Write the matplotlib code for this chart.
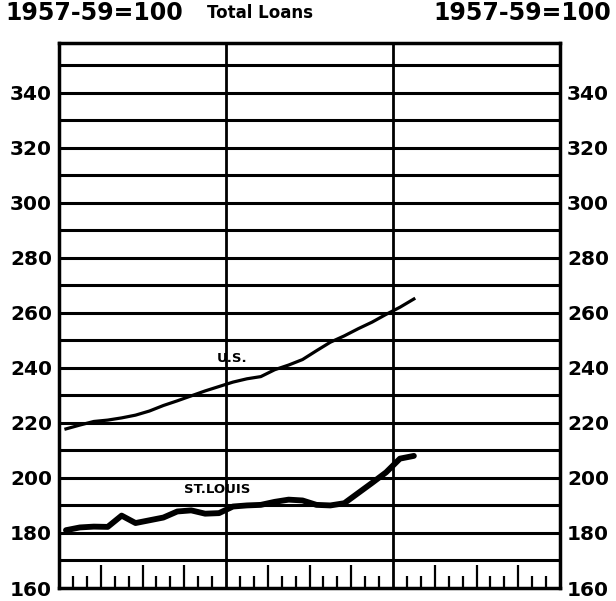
import numpy as np
import matplotlib
matplotlib.use("Agg")
import matplotlib.pyplot as plt

# monthly index values (month 0 = start of first year)
months = np.arange(26) + 0.5
us = [217.8, 219.2, 220.5, 221.0, 221.8, 222.8, 224.3, 226.3, 228.0, 229.8,
      231.6, 233.2, 234.8, 236.0, 236.8, 239.3, 241.0, 243.0, 246.2, 249.3,
      251.6, 254.2, 256.6, 259.4, 262.0, 265.0]
st_louis = [181.0, 182.0, 182.3, 182.2, 186.3, 183.6, 184.6, 185.6, 187.8, 188.2,
            187.0, 187.2, 189.6, 190.0, 190.2, 191.3, 192.1, 191.8, 190.2, 190.0,
            190.8, 194.5, 198.2, 202.0, 207.0, 208.0]
yticks = list(range(160, 341, 20))

plt.rcParams['font.family'] = 'DejaVu Sans'
plt.rcParams['font.weight'] = 'bold'

fig = plt.figure(figsize=(6.16, 6.01), dpi=100)
# frame runs from x=59..560 px and y=43..588 px
ax = fig.add_axes([59 / 616, 13 / 601, 501 / 616, 545 / 601])
ax.set_xlim(0, 36)
ax.set_ylim(160, 358)

# horizontal grid every 10 points
ax.hlines(np.arange(170, 351, 10), 0, 36, color='black', lw=2.2, zorder=1)
# year dividers
ax.vlines([12, 24], 160, 358, color='black', lw=2.0, zorder=1)
# month ticks along the bottom, taller ones at quarters
m = np.array([i for i in range(1, 36) if i % 12 != 0])
ax.vlines(m, 160, np.where(m % 3 == 0, 168.5, 164.5), color='black', lw=1.6, zorder=1)

ax.plot(months, us, color='black', lw=2.3, zorder=3)
ax.plot(months, st_louis, color='black', lw=4.2, zorder=3, solid_capstyle='round')

ax.text(12.4, 243.5, 'U.S.', ha='center', va='center', fontsize=9.5)
ax.text(11.35, 195.7, 'ST.LOUIS', ha='center', va='center', fontsize=9.5)

for s in ax.spines.values():
    s.set_linewidth(2.5)
ax.set_xticks([])
ax.set_yticks(yticks)
ax.set_yticklabels([str(v) for v in yticks])
ax.tick_params(axis='y', length=0, labelsize=14.5, labelleft=True, labelright=True, pad=5)

fig.text(5 / 616, 0.978, '1957-59=100', ha='left', va='center', fontsize=17)
fig.text(611 / 616, 0.978, '1957-59=100', ha='right', va='center', fontsize=17)
fig.text(260 / 616, 0.978, 'Total Loans', ha='center', va='center', fontsize=12)

fig.savefig('out.png', dpi=100)
